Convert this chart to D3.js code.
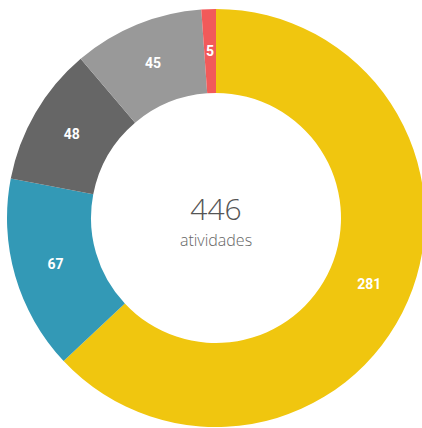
<!DOCTYPE html>
<html>
<head>
<meta charset="utf-8">
<script src="https://cdn.jsdelivr.net/npm/d3@7"></script>
<style>
  html, body { margin: 0; padding: 0; background: #fff; }
</style>
</head>
<body>
<div id="chart"></div>
<script>
// dados do gráfico
const categories = ["A", "B", "C", "D", "E"];
const values = [281, 67, 48, 45, 5];
const colors = ["#F0C60F", "#3399B6", "#666666", "#999999", "#F25A5A"];
const centerLabel = "atividades";

const width = 422, height = 428;
const cx = 216, cy = 218;
const outerR = 209, innerR = 125;

const data = categories.map((c, i) => ({ name: c, value: values[i], color: colors[i] }));
const total = d3.sum(values);

const svg = d3.select("#chart").append("svg")
  .attr("width", width)
  .attr("height", height);

const g = svg.append("g").attr("transform", `translate(${cx},${cy})`);

const pie = d3.pie().value(d => d.value).sort(null);
const arc = d3.arc().innerRadius(innerR).outerRadius(outerR);

const arcs = pie(data);

g.selectAll("path")
  .data(arcs)
  .join("path")
  .attr("d", arc)
  .attr("fill", d => d.data.color);

// rótulos nas fatias
g.selectAll("text.val")
  .data(arcs)
  .join("text")
  .attr("class", "val")
  .attr("transform", d => `translate(${arc.centroid(d)})`)
  .attr("text-anchor", "middle")
  .attr("dy", "0.35em")
  .attr("fill", "#fff")
  .style("font-family", "'Roboto', sans-serif")
  .style("font-weight", "bold")
  .style("font-size", "14px")
  .text(d => d.data.value);

// total no centro
g.append("text")
  .attr("text-anchor", "middle")
  .attr("y", 2)
  .attr("fill", "#555")
  .style("font-family", "'Open Sans', sans-serif")
  .style("font-weight", 300)
  .style("font-size", "30px")
  .text(total);

g.append("text")
  .attr("text-anchor", "middle")
  .attr("y", 28)
  .attr("fill", "#666")
  .style("font-family", "'Open Sans', sans-serif")
  .style("font-weight", 300)
  .style("font-size", "16px")
  .text(centerLabel);
</script>
</body>
</html>
